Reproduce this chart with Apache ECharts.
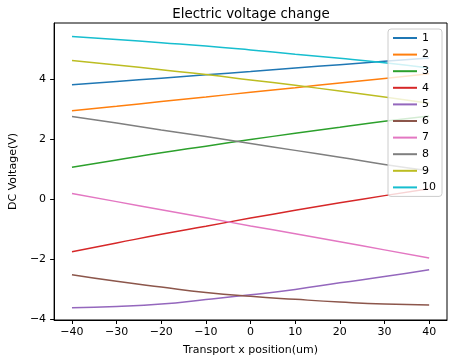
<!DOCTYPE html>
<html>
<head>
<meta charset="utf-8">
<script src="https://cdn.jsdelivr.net/npm/echarts@6/dist/echarts.min.js"></script>
<style>
  html, body { margin: 0; padding: 0; background: #fff; }
  #chart { width: 453px; height: 361px; }
</style>
</head>
<body>
<div id="chart"></div>
<script>
// x positions (um) and the voltage for each electrode
const xs = [-40, -30, -20, -10, 0, 10, 20, 30, 40];
const names = ['1', '2', '3', '4', '5', '6', '7', '8', '9', '10'];
const v1 = [3.82, 3.93, 4.04, 4.15, 4.26, 4.38, 4.49, 4.60, 4.71];
const v2 = [2.95, 3.10, 3.26, 3.41, 3.57, 3.72, 3.88, 4.03, 4.19];
const v3 = [1.07, 1.31, 1.55, 1.77, 1.99, 2.20, 2.40, 2.60, 2.78];
const v4 = [-1.75, -1.46, -1.17, -0.90, -0.63, -0.37, -0.12, 0.12, 0.35];
const v5 = [-3.62, -3.58, -3.50, -3.35, -3.19, -3.01, -2.79, -2.58, -2.35];
const v6 = [-2.52, -2.74, -2.93, -3.11, -3.24, -3.34, -3.43, -3.50, -3.53];
const v7 = [0.19, -0.08, -0.35, -0.62, -0.89, -1.15, -1.42, -1.69, -1.96];
const v8 = [2.76, 2.54, 2.31, 2.09, 1.86, 1.63, 1.40, 1.16, 0.95];
const v9 = [4.63, 4.48, 4.32, 4.16, 3.98, 3.80, 3.61, 3.41, 3.20];
const v10 = [5.43, 5.33, 5.22, 5.11, 4.98, 4.84, 4.70, 4.55, 4.38];
const xTicks = [-40, -30, -20, -10, 0, 10, 20, 30, 40];
const yTicks = [-4, -2, 0, 2, 4];

const colors = ['#1f77b4', '#ff7f0e', '#2ca02c', '#d62728', '#9467bd',
  '#8c564b', '#e377c2', '#7f7f7f', '#bcbd22', '#17becf'];
const values = [v1, v2, v3, v4, v5, v6, v7, v8, v9, v10];

const minus = v => String(v).replace('-', '\u2212');
const font = 'DejaVu Sans';

const chart = echarts.init(document.getElementById('chart'));
chart.setOption({
  animation: false,
  color: colors,
  title: {
    text: 'Electric voltage change',
    left: 246,
    textAlign: 'center',
    top: 3,
    textStyle: { fontFamily: font, fontSize: 13.4, fontWeight: 'normal', color: '#000' },
  },
  grid: {
    left: 46, right: 6, top: 23, bottom: 38,
    show: true, borderColor: '#000', borderWidth: 1,
  },
  legend: {
    orient: 'vertical',
    right: 11,
    top: 29,
    icon: 'rect',
    itemWidth: 24,
    itemHeight: 2,
    itemGap: 4.6,
    padding: [3, 6, 3, 5],
    backgroundColor: 'rgba(255,255,255,0.8)',
    borderColor: '#cccccc',
    borderWidth: 1,
    borderRadius: 3,
    textStyle: { fontFamily: font, fontSize: 11, color: '#000', lineHeight: 12 },
    data: names,
  },
  xAxis: {
    type: 'value',
    min: -44,
    max: 44,
    name: 'Transport x position(um)',
    nameLocation: 'middle',
    nameGap: 25,
    nameTextStyle: { fontFamily: font, fontSize: 11, color: '#000' },
    axisLine: { show: true, onZero: false, lineStyle: { color: '#000', width: 1 } },
    axisTick: { show: true, inside: false, length: 4, customValues: xTicks, lineStyle: { color: '#000' } },
    axisLabel: { customValues: xTicks, formatter: minus, margin: 7, fontFamily: font, fontSize: 11, color: '#000' },
    splitLine: { show: false },
  },
  yAxis: {
    type: 'value',
    min: -4.03,
    max: 5.88,
    name: 'DC Voltage(V)',
    nameLocation: 'middle',
    nameGap: 29,
    nameTextStyle: { fontFamily: font, fontSize: 11, color: '#000' },
    axisLine: { show: true, onZero: false, lineStyle: { color: '#000', width: 1 } },
    axisTick: { show: true, inside: false, length: 4, customValues: yTicks, lineStyle: { color: '#000' } },
    axisLabel: { customValues: yTicks, formatter: minus, margin: 8, fontFamily: font, fontSize: 11, color: '#000' },
    splitLine: { show: false },
  },
  series: names.map((n, i) => ({
    name: n,
    type: 'line',
    smooth: true,
    showSymbol: false,
    lineStyle: { width: 1.5 },
    data: xs.map((x, j) => [x, values[i][j]]),
  })),
});
</script>
</body>
</html>
